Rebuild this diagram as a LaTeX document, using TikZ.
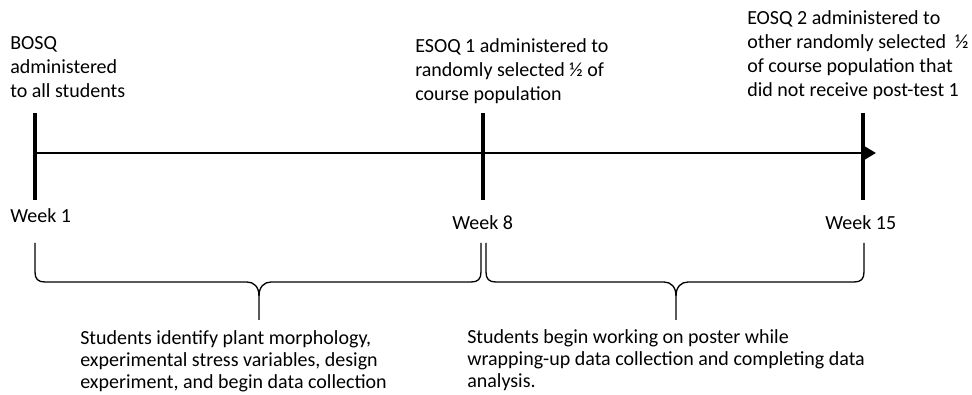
\documentclass[tikz,border=0pt]{standalone}
\usepackage{fontspec}
\setmainfont{Carlito}
\usetikzlibrary{arrows.meta}
\tikzset{event node/.style={align=left,anchor=north west,inner sep=0pt,font=\fontsize{15}{18}\selectfont,execute at begin node=\strut},
week node/.style={anchor=base west,inner sep=0pt,font=\fontsize{15}{18}\selectfont},
task node/.style={align=left,anchor=north west,inner sep=0pt,font=\fontsize{15}{16.5}\selectfont,execute at begin node=\strut},
tick line/.style={line width=2.6pt},
brace line/.style={line width=1pt},}

\begin{document}
\begin{tikzpicture}[x=0.75pt,y=-0.75pt]
      \useasboundingbox (0,0) rectangle (972,395);
      \coordinate (t1) at (35,153);
      \coordinate (t8) at (483,153);
      \coordinate (t15) at (863,153);
      \coordinate (tend) at (876,153);

      % time line
      \draw[line width=2.2pt,-{Triangle[length=9pt,width=10pt]}] (t1) -- (tend);
      \foreach \t in {t1,t8,t15}
        \draw[tick line] (\t) ++(0,-40) -- ++(0,87);

      \node[week node] (w1) at (10,223) {Week 1};
      \node[week node] (w8) at (452,230) {Week 8};
      \node[week node] (w15) at (825,230) {Week 15};

      \node[event node] (e1) at (10,36) {BOSQ\\administered\\to all students};
      \node[event node] (e8) at (415,38) {ESOQ 1 administered to\\randomly selected ½ of\\course population};
      \node[event node] (e15) at (747,10) {EOSQ 2 administered to\\other randomly selected~ ½\\of course population that\\did not receive post-test 1};

      % braces
      \draw[brace line] (35,243) -- (35,272) .. controls (35,279) and (38,282) .. (45,282) -- (247,282) .. controls (254,282) and (259,287) .. (259,296) -- (259,320);
      \draw[brace line] (259,296) .. controls (259,287) and (264,282) .. (271,282) -- (471,282) .. controls (478,282) and (481,279) .. (481,272) -- (481,243);
      \draw[brace line] (486,243) -- (486,272) .. controls (486,279) and (489,282) .. (496,282) -- (664,282) .. controls (671,282) and (676,287) .. (676,296) -- (676,320);
      \draw[brace line] (676,296) .. controls (676,287) and (681,282) .. (688,282) -- (854,282) .. controls (861,282) and (864,279) .. (864,272) -- (864,243);

      \node[task node] (s1) at (80,330) {Students identify plant morphology,\\experimental stress variables, design\\experiment, and begin data collection};
      \node[task node] (s2) at (467,329) {Students begin working on poster while\\wrapping-up data collection and completing data\\analysis.};

    \end{tikzpicture}
\end{document}
